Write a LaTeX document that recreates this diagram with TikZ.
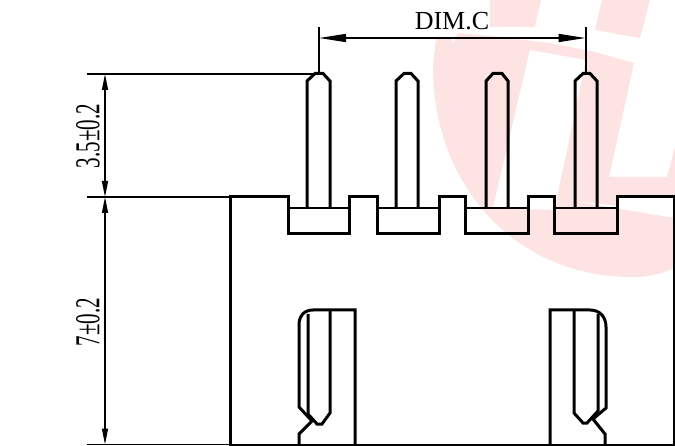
\documentclass[tikz,border=0pt]{standalone}
\usepackage{fontspec}
\setmainfont{Liberation Serif}
\newfontfamily\dimfont[FakeStretch=0.6]{Liberation Serif}
\usetikzlibrary{arrows.meta}
\definecolor{wm}{HTML}{FEE3E3}
\tikzset{
  body/.style={line width=3pt,black},
  pinline/.style={line width=3pt,black},
  shoulder/.style={line width=2.4pt,black},
  ext/.style={line width=1.5pt,black},
  extv/.style={line width=1.9pt,black},
  dimh/.style={line width=1.5pt,black,{Triangle[length=27pt,width=8pt]}-{Triangle[length=27pt,width=8pt]}},
  dimv/.style={line width=1.4pt,black,{Triangle[length=16pt,width=6pt]}-{Triangle[length=16pt,width=6pt]}},
  wmcut/.style={fill=white,draw=none},
}
\begin{document}
\begin{tikzpicture}[x=1pt,y=-1pt]
\useasboundingbox (0,0) rectangle (675,446);
% watermark
\fill[wm] (490,0) -- (541,0) -- (535,27) -- (490,27) -- cycle;
\fill[wm] (602,0) -- (650,0) -- (640,38) -- (595,30) -- cycle;
\fill[wm] (436,38) -- (451,38) -- (453,44) -- (458,33) -- (490,36) -- (550,43) -- (595,52) -- (634,63)
  -- (609,177) -- (667,177) -- (675,147) -- (675,268)
  .. controls (663,273) and (650,277) .. (632,277)
  .. controls (515,277) and (433,185) .. (433,67) -- cycle;
\fill[wmcut] (530,50) -- (586,60) -- (557,197) -- (555,210) -- (493,208) -- cycle;
\fill[wmcut] (573,201) -- (617,206) -- (617,198) -- (675,198) -- (675,218) -- cycle;
% extension lines
\draw[ext] (87,74) -- (315,74);
\draw[ext] (87,197) -- (230,197);
\draw[ext] (87,444.5) -- (230,444.5);
\coordinate (cl) at (319,38);
\coordinate (cr) at (585.6,38);
\draw[extv] (319,27) -- (319,73);
\draw[extv] (585.6,27) -- (585.6,73);
\draw[dimh] (cl) -- (cr);
\coordinate (a1) at (105,74);
\coordinate (a2) at (105,197);
\coordinate (a3) at (105,444.5);
\draw[dimv] (a1) -- (a2);
\draw[dimv] (a2) -- (a3);
% labels
\node[inner sep=0pt,font=\fontsize{26}{26}\selectfont] (dimc) at (452,21.5) {DIM.C};
\node[inner sep=0pt,rotate=90,font=\dimfont\fontsize{35}{35}\selectfont] (d35) at (88,136) {3.5±0.2};
\node[inner sep=0pt,rotate=90,font=\dimfont\fontsize{35}{35}\selectfont] (d7) at (88,322) {7±0.2};
% pins
\draw[pinline] (307,208) -- (307,81) -- (315,73.5) -- (323,73.5) -- (330,81) -- (330,208);
\draw[pinline] (396,208) -- (396,81) -- (404,73.5) -- (411,73.5) -- (418,81) -- (418,208);
\draw[pinline] (486,208) -- (486,81) -- (493,73.5) -- (502,73.5) -- (508,81) -- (508,208);
\draw[pinline] (575,208) -- (575,81) -- (583,73.5) -- (590,73.5) -- (597,81) -- (597,208);
% notch shoulders
\draw[shoulder] (288,208) -- (349,208);
\draw[shoulder] (377,208) -- (439,208);
\draw[shoulder] (465,208) -- (528,208);
\draw[shoulder] (554,208) -- (617,208);
% body
\draw[body] (230,445) -- (230,197) -- (288,197) -- (288,234) -- (349,234) -- (349,197) -- (377,197) -- (377,234) -- (439,234) -- (439,197) -- (465,197) -- (465,234) -- (528,234) -- (528,197) -- (554,197) -- (554,234) -- (617,234) -- (617,197) -- (674,197) -- (674,445);
\draw[line width=3pt] (229,445) -- (675,445);
% left latch
\draw[pinline] (355,445) -- (355,310) -- (313,310) .. controls (304,310) and (299,316) .. (299,325) -- (299,407) -- (312,421) -- (299,434) -- (299,445);
\draw[pinline] (308,314) -- (308,414) -- (317,424) -- (322,424) -- (330,413) -- (330,310);
% right latch
\draw[pinline] (550,445) -- (550,310) -- (590,310) .. controls (600,310) and (606,317) .. (606,327) -- (606,408) -- (593,419) -- (605,434) -- (605,445);
\draw[pinline] (598,314) -- (598,411) -- (587,423) -- (583,423) -- (574,413) -- (574,310);
\end{tikzpicture}
\end{document}
